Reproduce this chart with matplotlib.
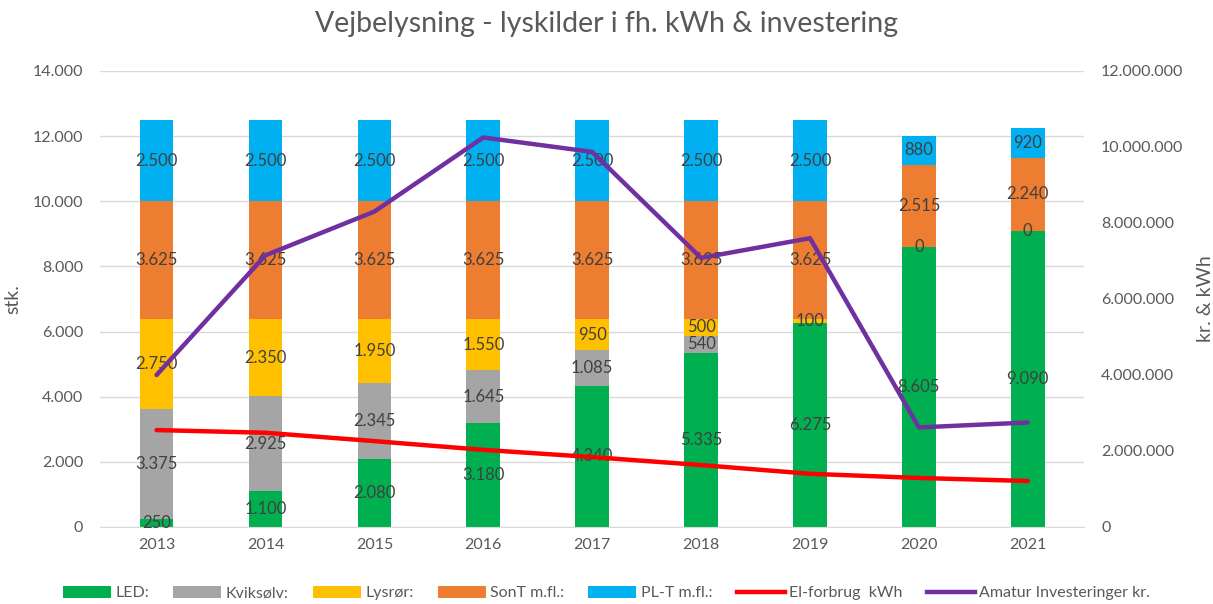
import numpy as np
import matplotlib
matplotlib.use("Agg")
import matplotlib.pyplot as plt
from matplotlib.patches import Patch
from matplotlib.lines import Line2D
from matplotlib.ticker import FuncFormatter

plt.rcParams['font.family'] = ['Lato', 'DejaVu Sans']

years = ["2013", "2014", "2015", "2016", "2017", "2018", "2019", "2020", "2021"]
led = [250, 1100, 2080, 3180, 4340, 5335, 6275, 8605, 9090]
kviksolv = [3375, 2925, 2345, 1645, 1085, 540, np.nan, np.nan, np.nan]
lysror = [2750, 2350, 1950, 1550, 950, 500, 100, 0, 0]
sont = [3625, 3625, 3625, 3625, 3625, 3625, 3625, 2515, 2240]
plt_ = [2500, 2500, 2500, 2500, 2500, 2500, 2500, 880, 920]
el_forbrug = [2550000, 2480000, 2260000, 2030000, 1840000, 1630000, 1400000, 1290000, 1210000]
investering = [4000000, 7150000, 8300000, 10250000, 9870000, 7080000, 7600000, 2620000, 2750000]

series = [("LED:", led, "#00B050"), ("Kviksølv:", kviksolv, "#A5A5A5"),
          ("Lysrør:", lysror, "#FFC000"), ("SonT m.fl.:", sont, "#ED7D31"),
          ("PL-T m.fl.:", plt_, "#00B0F0")]

txt = "#595959"
lab = "#404040"

def fmt(v, pos=None):
    return f"{v:,.0f}".replace(",", ".")

fig = plt.figure(figsize=(12.13, 6.04), dpi=100)
ax = fig.add_axes([0.0824, 0.1275, 0.8116, 0.755])
x = np.arange(len(years))
bottom = np.zeros(len(years))
for name, vals, col in series:
    v = np.array(vals, dtype=float)
    h = np.nan_to_num(v)
    ax.bar(x, h, bottom=bottom, width=0.31, color=col, zorder=2)
    for i in range(len(years)):
        if not np.isnan(v[i]):
            ax.text(x[i], bottom[i] + h[i] / 2, fmt(v[i]), ha="center", va="center",
                    fontsize=12, color=lab, zorder=3)
    bottom += h

ax.set_ylim(0, 14000)
ax.set_xlim(-0.52, 8.52)
ax.set_yticks(np.arange(0, 14001, 2000))
ax.yaxis.set_major_formatter(FuncFormatter(fmt))
ax.set_xticks(x)
ax.set_xticklabels(years)
ax.grid(axis="y", color="#D9D9D9", linewidth=1, zorder=0)
ax.set_axisbelow(True)
for s in ["top", "right", "left"]:
    ax.spines[s].set_visible(False)
ax.spines["bottom"].set_color("#D9D9D9")
ax.tick_params(axis="both", length=0, labelsize=11.5, colors=txt)
ax.tick_params(axis="x", pad=8)
ax.tick_params(axis="y", pad=12)
ax.set_ylabel("stk.", fontsize=14, color=txt, labelpad=8)

ax2 = ax.twinx()
ax2.plot(x, el_forbrug, color="#FF0000", linewidth=3.2, solid_capstyle="round", zorder=5)
ax2.plot(x, investering, color="#7030A0", linewidth=3.2, solid_capstyle="round", zorder=5)
ax2.set_ylim(0, 12000000)
ax2.set_yticks(np.arange(0, 12000001, 2000000))
ax2.yaxis.set_major_formatter(FuncFormatter(fmt))
for s in ["top", "right", "left", "bottom"]:
    ax2.spines[s].set_visible(False)
ax2.tick_params(axis="y", length=0, labelsize=11.5, colors=txt, pad=12)
ax2.set_ylabel("kr. & kWh", fontsize=14, color=txt, labelpad=10)

fig.suptitle("Vejbelysning - lyskilder i fh. kWh & investering", fontsize=20.5, color=txt, y=0.982)

handles = [Patch(facecolor=c, label=n) for n, _, c in series]
handles += [Line2D([0], [0], color="#FF0000", lw=3.2, label="El-forbrug  kWh"),
            Line2D([0], [0], color="#7030A0", lw=3.2, label="Amatur Investeringer kr.")]
fig.legend(handles=handles, loc="center", bbox_to_anchor=(0.5, 0.018), ncol=7,
           frameon=False, fontsize=11.5, labelcolor=txt, handlelength=3.0, handleheight=0.8,
           columnspacing=1.5, handletextpad=0.3)

fig.savefig("out.png", dpi=100)
